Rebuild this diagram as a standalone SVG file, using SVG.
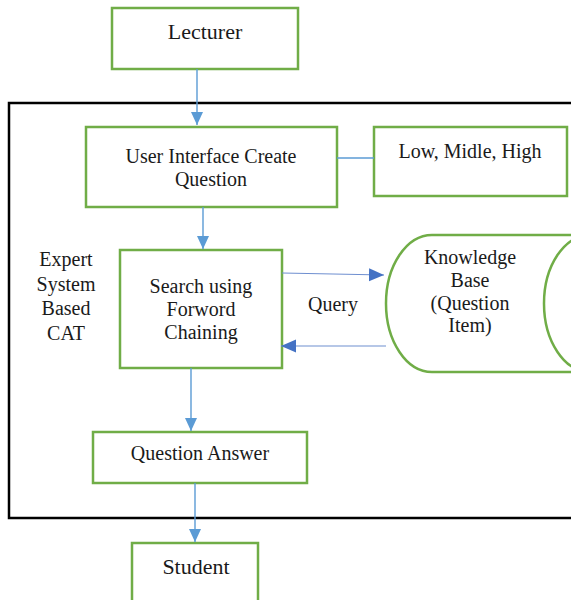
<svg xmlns="http://www.w3.org/2000/svg" width="571" height="600" viewBox="0 0 571 600">
  <style>
    .box { fill: #ffffff; stroke: #70AD47; stroke-width: 2.5; }
    .frame { fill: none; stroke: #000000; stroke-width: 2.5; }
    .t { font-family: "Liberation Serif", "Times New Roman", serif; font-size: 20px; fill: #1a1a1a; text-anchor: middle; }
    .big { font-size: 22px; }
    .flow { fill: none; stroke: #5B9BD5; stroke-width: 1.4; }
    .query { fill: none; stroke: #6F8FD0; stroke-width: 1.2; }
  </style>
  <defs>
    <marker id="arrowLight" markerUnits="userSpaceOnUse" markerWidth="14" markerHeight="14" viewBox="0 0 14 14" refX="13" refY="7" orient="auto">
      <path d="M0,1 L13,7 L0,13 Z" fill="#5B9BD5"/>
    </marker>
    <marker id="arrowDark" markerUnits="userSpaceOnUse" markerWidth="16" markerHeight="16" viewBox="0 0 16 16" refX="15" refY="8" orient="auto">
      <path d="M0,1.5 L15,8 L0,14.5 Z" fill="#4472C4"/>
    </marker>
  </defs>

  <!-- system boundary -->
  <rect class="frame" x="9" y="103" width="600" height="415"/>

  <g id="lecturer">
    <rect class="box" x="112" y="8" width="186" height="61"/>
    <text class="t big" x="205" y="39">Lecturer</text>
  </g>

  <g id="ui-create-question">
    <rect class="box" x="86" y="127" width="251" height="80"/>
    <text class="t" x="211" y="163">User Interface Create</text>
    <text class="t" x="211" y="186">Question</text>
  </g>

  <g id="levels">
    <rect class="box" x="374" y="127" width="193" height="69"/>
    <text class="t" x="470" y="158">Low, Midle, High</text>
  </g>

  <g id="expert-label">
    <text class="t" x="66" y="266">Expert</text>
    <text class="t" x="66" y="291">System</text>
    <text class="t" x="66" y="315">Based</text>
    <text class="t" x="66" y="340">CAT</text>
  </g>

  <g id="search">
    <rect class="box" x="120" y="250" width="162" height="118"/>
    <text class="t" x="201" y="293">Search using</text>
    <text class="t" x="201" y="316">Forword</text>
    <text class="t" x="201" y="339">Chaining</text>
  </g>

  <g id="knowledge-base">
    <path class="box" d="M 620 235 L 432 235 A 46 68.5 0 0 0 432 372 L 620 372"/>
    <path class="box" style="fill:none" d="M 590 235 A 46 68.5 0 0 0 590 372"/>
    <text class="t" x="470" y="264">Knowledge</text>
    <text class="t" x="470" y="287">Base</text>
    <text class="t" x="470" y="310">(Question</text>
    <text class="t" x="470" y="332">Item)</text>
  </g>

  <g id="question-answer">
    <rect class="box" x="93" y="432" width="214" height="51"/>
    <text class="t" x="200" y="460">Question Answer</text>
  </g>

  <g id="student">
    <rect class="box" x="132" y="543" width="126" height="70"/>
    <text class="t big" x="196" y="574">Student</text>
  </g>

  <g id="connectors">
    <path class="flow" d="M 197 69 L 197 125" marker-end="url(#arrowLight)"/>
    <path class="flow" d="M 337 158 L 374 158"/>
    <path class="flow" d="M 203 207 L 203 249" marker-end="url(#arrowLight)"/>
    <path class="query" d="M 282 273 L 384 275" marker-end="url(#arrowDark)"/>
    <path class="query" d="M 386 346 L 281 346" marker-end="url(#arrowDark)"/>
    <text class="t" x="333" y="311">Query</text>
    <path class="flow" d="M 191 368 L 191 431" marker-end="url(#arrowLight)"/>
    <path class="flow" d="M 195 483 L 195 542" marker-end="url(#arrowLight)"/>
  </g>
</svg>
